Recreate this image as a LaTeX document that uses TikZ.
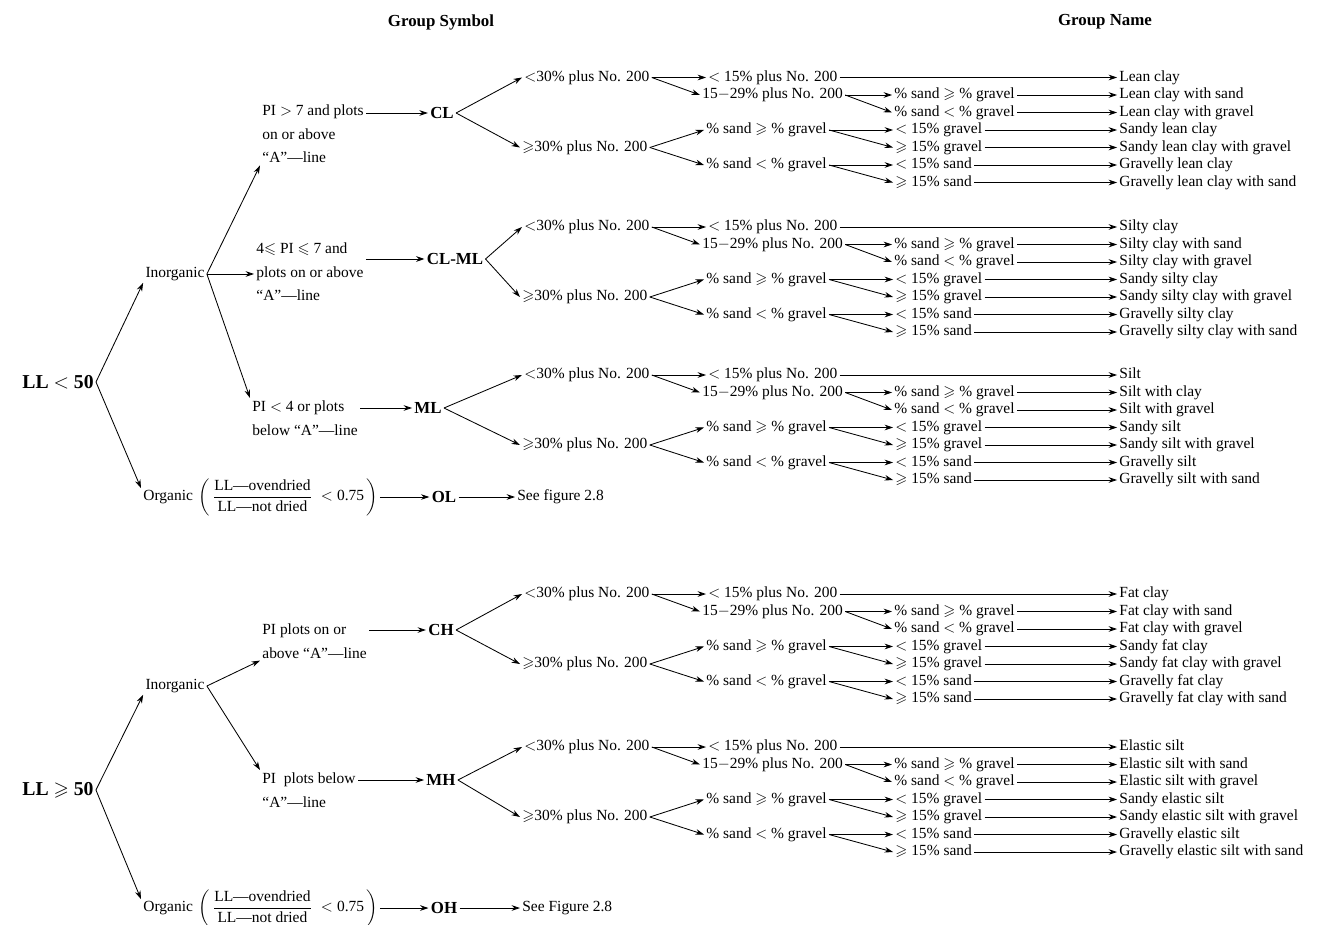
\documentclass[tikz,border=0pt]{standalone}
\usepackage{amsmath,amssymb}
\usepackage{fontspec}
\setmainfont{Liberation Serif}
\usepackage{tikz}
\usetikzlibrary{arrows.meta}

\tikzset{
  txt/.style={inner sep=1.5pt, font=\fontsize{11}{12}\selectfont, text height=1.55ex, text depth=0.45ex},
  multi/.style={inner sep=1.5pt, font=\fontsize{11}{17}\selectfont, align=left},
  fracbox/.style={inner sep=1pt, font=\fontsize{11}{13}\selectfont},
  sym/.style={inner sep=1.5pt, font=\fontsize{12}{14}\selectfont\bfseries},
  big/.style={inner sep=1.5pt, font=\fontsize{14}{16}\selectfont\bfseries},
  arr/.style={-{Stealth[length=6pt,width=4pt]}, line width=0.6pt},
}

% one group symbol with its sub-tree: #1 symbol node, #2 y of the fork, #3 group names
\newcommand{\soilblock}[3]{%
  \node[txt, anchor=west] (#1-a) at (522,#2-35) {$<$30\% plus No. 200};
  \node[txt, anchor=west] (#1-b) at (520,#2+35) {$\geqslant$30\% plus No. 200};
  \node[txt, anchor=west] (#1-c) at (706,#2-35) {$<$ 15\% plus No. 200};
  \node[txt, anchor=west] (#1-d) at (700,#2-17.5) {15$-$29\% plus No. 200};
  \node[txt, anchor=west] (#1-e) at (704,#2+17.5) {\% sand $\geqslant$ \% gravel};
  \node[txt, anchor=west] (#1-f) at (704,#2+52.5) {\% sand $<$ \% gravel};
  \node[txt, anchor=west] (#1-g) at (892,#2-17.5) {\% sand $\geqslant$ \% gravel};
  \node[txt, anchor=west] (#1-h) at (892,#2) {\% sand $<$ \% gravel};
  \node[txt, anchor=west] (#1-i) at (893,#2+17.5) {$<$ 15\% gravel};
  \node[txt, anchor=west] (#1-j) at (893,#2+35) {$\geqslant$ 15\% gravel};
  \node[txt, anchor=west] (#1-k) at (893,#2+52.5) {$<$ 15\% sand};
  \node[txt, anchor=west] (#1-m) at (893,#2+70) {$\geqslant$ 15\% sand};
  \foreach \lf [count=\i] in {#3}
    \node[txt, anchor=west] (#1-l\i) at (1117,{#2+(\i-3)*17.5}) {\lf};
  \draw[arr] (#1.east) -- (#1-a.west);
  \draw[arr] (#1.east) -- (#1-b.west);
  \draw[arr] (#1-a.east) -- (#1-c.west);
  \draw[arr] (#1-a.east) -- (#1-d.west);
  \draw[arr] (#1-b.east) -- (#1-e.west);
  \draw[arr] (#1-b.east) -- (#1-f.west);
  \draw[arr] (#1-d.east) -- (#1-g.west);
  \draw[arr] (#1-d.east) -- (#1-h.west);
  \draw[arr] (#1-e.east) -- (#1-i.west);
  \draw[arr] (#1-e.east) -- (#1-j.west);
  \draw[arr] (#1-f.east) -- (#1-k.west);
  \draw[arr] (#1-f.east) -- (#1-m.west);
  \foreach \s [count=\i] in {c,g,h,i,j,k,m}
    \draw[arr] (#1-\s) -- (#1-l\i);
}

\begin{document}
\begin{tikzpicture}[x=0.025cm, y=-0.025cm]
\useasboundingbox[fill=white] (0,0) rectangle (1321,925);

\node[sym] (hsym) at (441,22) {Group Symbol};
\node[sym] (hname) at (1105,22) {Group Name};

% LL < 50
\node[big] (ll1) at (58,382) {LL $<$ 50};
\node[txt] (inorg1) at (175,274) {Inorganic};
\node[txt, anchor=west] (org1) at (141,497) {Organic};
\node[fracbox, anchor=west] (frac1) at (197,497) {$\left(\,\dfrac{\text{LL---ovendried}}{\text{LL---not dried}}\;<\text{0.75}\,\right)$};
\node[multi, anchor=north west] (pi1) at (260,102) {PI $>$ 7 and plots\\on or above\\``A''---line};
\node[multi, anchor=north west] (pi2) at (254,240) {4$\leqslant$ PI $\leqslant$ 7 and\\plots on or above\\``A''---line};
\node[multi, anchor=north west] (pi3) at (250,398) {PI $<$ 4 or plots\\below ``A''---line};
\node[sym] (cl) at (442,113) {CL};
\node[sym] (clml) at (455,259) {CL-ML};
\node[sym] (ml) at (428,408) {ML};
\node[sym] (ol) at (444,497) {OL};
\node[txt, anchor=west] (see1) at (515,497) {See figure 2.8};

\draw[arr] (ll1.east) -- (inorg1.south west);
\draw[arr] (ll1.east) -- (org1.north west);
\draw[arr] (inorg1.east) -- (pi1.south west);
\draw[arr] (inorg1.east) -- (inorg1.east -| pi2.west);
\draw[arr] (inorg1.east) -- (pi3.north west);
\draw[arr] (pi1.east |- cl.west) -- (cl.west);
\draw[arr] (pi2.east |- clml.west) -- (clml.west);
\draw[arr] (pi3.east |- ml.west) -- (ml.west);
\draw[arr] (frac1.east) -- (ol.west);
\draw[arr] (ol.east) -- (see1.west);

\soilblock{cl}{112.5}{Lean clay, Lean clay with sand, Lean clay with gravel, Sandy lean clay, Sandy lean clay with gravel, Gravelly lean clay, Gravelly lean clay with sand}
\soilblock{clml}{262}{Silty clay, Silty clay with sand, Silty clay with gravel, Sandy silty clay, Sandy silty clay with gravel, Gravelly silty clay, Gravelly silty clay with sand}
\soilblock{ml}{410}{Silt, Silt with clay, Silt with gravel, Sandy silt, Sandy silt with gravel, Gravelly silt, Gravelly silt with sand}

% LL >= 50
\node[big] (ll2) at (58,790) {LL $\geqslant$ 50};
\node[txt] (inorg2) at (175,686) {Inorganic};
\node[txt, anchor=west] (org2) at (141,908) {Organic};
\node[fracbox, anchor=west] (frac2) at (197,908) {$\left(\,\dfrac{\text{LL---ovendried}}{\text{LL---not dried}}\;<\text{0.75}\,\right)$};
\node[multi, anchor=north west] (pi4) at (260,621) {PI plots on or\\above ``A''---line};
\node[multi, anchor=north west] (pi5) at (260,770) {PI\ \ plots below\\``A''---line};
\node[sym] (ch) at (441,630) {CH};
\node[sym] (mh) at (441,780) {MH};
\node[sym] (oh) at (444,908) {OH};
\node[txt, anchor=west] (see2) at (520,908) {See Figure 2.8};

\draw[arr] (ll2.east) -- (inorg2.south west);
\draw[arr] (ll2.east) -- (org2.north west);
\draw[arr] (inorg2.east) -- (pi4.south west);
\draw[arr] (inorg2.east) -- (pi5.north west);
\draw[arr] (pi4.east |- ch.west) -- (ch.west);
\draw[arr] (pi5.east |- mh.west) -- (mh.west);
\draw[arr] (frac2.east) -- (oh.west);
\draw[arr] (oh.east) -- (see2.west);

\soilblock{ch}{629}{Fat clay, Fat clay with sand, Fat clay with gravel, Sandy fat clay, Sandy fat clay with gravel, Gravelly fat clay, Gravelly fat clay with sand}
\soilblock{mh}{782}{Elastic silt, Elastic silt with sand, Elastic silt with gravel, Sandy elastic silt, Sandy elastic silt with gravel, Gravelly elastic silt, Gravelly elastic silt with sand}
\end{tikzpicture}
\end{document}
